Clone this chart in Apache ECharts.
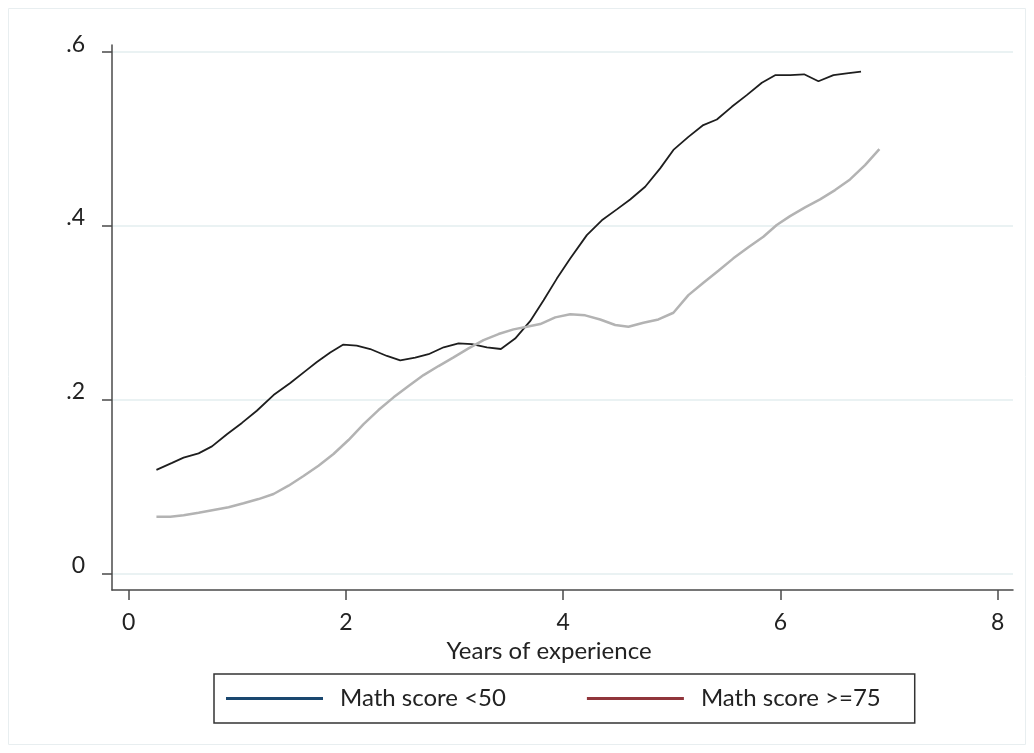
<!DOCTYPE html>
<html>
<head>
<meta charset="utf-8">
<script src="https://cdn.jsdelivr.net/npm/echarts@6/dist/echarts.min.js"></script>
<style>
html,body{margin:0;padding:0;background:#fff;}
#chart{width:1034px;height:753px;}
</style>
</head>
<body>
<div id="chart"></div>
<script>
// ---- data ----
const lowX = [0.256,0.40,0.506,0.644,0.767,0.905,1.043,1.18,1.334,1.488,1.641,1.733,1.856,1.973,2.10,2.224,2.378,2.50,2.638,2.761,2.90,3.037,3.16,3.298,3.427,3.558,3.696,3.82,3.942,4.065,4.218,4.356,4.494,4.617,4.755,4.893,5.015,5.153,5.29,5.415,5.552,5.69,5.829,5.951,6.089,6.218,6.35,6.488,6.61,6.742];
const lowY = [0.119,0.127,0.133,0.138,0.146,0.160,0.173,0.187,0.205,0.219,0.234,0.243,0.254,0.263,0.262,0.258,0.250,0.245,0.248,0.252,0.260,0.2645,0.2637,0.260,0.258,0.270,0.290,0.314,0.339,0.362,0.389,0.406,0.4186,0.430,0.4446,0.4658,0.487,0.502,0.5156,0.522,0.5366,0.550,0.5643,0.573,0.573,0.574,0.566,0.573,0.575,0.577];
const highX = [0.256,0.384,0.506,0.644,0.782,0.92,1.058,1.196,1.334,1.472,1.61,1.748,1.886,2.024,2.163,2.30,2.439,2.577,2.715,2.853,2.991,3.129,3.267,3.405,3.543,3.666,3.789,3.927,4.065,4.203,4.341,4.479,4.601,4.739,4.877,5.015,5.153,5.291,5.429,5.567,5.705,5.843,5.966,6.089,6.227,6.365,6.503,6.641,6.779,6.911];
const highY = [0.065,0.065,0.0667,0.0697,0.0728,0.0759,0.0805,0.0854,0.0912,0.1008,0.1119,0.1238,0.1372,0.1533,0.1717,0.1878,0.2024,0.2154,0.228,0.2384,0.2484,0.2588,0.2683,0.2752,0.2806,0.2836,0.2867,0.2944,0.298,0.2967,0.292,0.2856,0.2836,0.2882,0.292,0.2997,0.320,0.3342,0.348,0.3623,0.375,0.3871,0.4006,0.4109,0.421,0.4301,0.4408,0.4531,0.4696,0.488];
const seriesNames = ['Math score <50', 'Math score >=75'];
const xTicks = [0, 2, 4, 6, 8];
const xTickLabels = ['0', '2', '4', '6', '8'];
const yTicks = [0, 0.2, 0.4, 0.6];
const yTickLabels = ['0', '.2', '.4', '.6'];
const xTitle = 'Years of experience';

const pair = (xs, ys) => xs.map((x, i) => [x, ys[i]]);
const labelFor = (ticks, labels) => v => {
  for (let i = 0; i < ticks.length; i++) if (Math.abs(ticks[i] - v) < 1e-9) return labels[i];
  return '';
};

const FONT = 'Lato';
const axisCol = '#4a4a4a';
const gridCol = '#eaf2f3';

const chart = echarts.init(document.getElementById('chart'), null, {renderer: 'canvas'});
chart.setOption({
  backgroundColor: '#ffffff',
  animation: false,
  textStyle: {fontFamily: FONT},
  graphic: [{
    type: 'rect', silent: true, z: -1,
    shape: {x: 8.5, y: 8.5, width: 1017, height: 736},
    style: {fill: null, stroke: '#e8eef0', lineWidth: 1}
  }],
  grid: {left: 112, right: 21, top: 45, bottom: 163, containLabel: false},
  xAxis: {
    type: 'value',
    min: -0.153, max: 8.141,
    name: xTitle,
    nameLocation: 'middle',
    nameGap: 46,
    nameTextStyle: {fontFamily: FONT, fontSize: 24, color: '#222', padding: [0, 27, 0, 0]},
    axisLine: {show: true, onZero: false, lineStyle: {color: axisCol, width: 1.5}},
    axisTick: {show: true, inside: false, length: 10, customValues: xTicks, lineStyle: {color: axisCol, width: 1.5}},
    axisLabel: {show: true, margin: 21, customValues: xTicks, formatter: labelFor(xTicks, xTickLabels), fontFamily: FONT, fontSize: 23, color: '#222'},
    splitLine: {show: false}
  },
  yAxis: {
    type: 'value',
    min: -0.0192, max: 0.6077,
    axisLine: {show: true, onZero: false, lineStyle: {color: axisCol, width: 1.5}},
    axisTick: {show: true, inside: false, length: 10, customValues: yTicks, lineStyle: {color: axisCol, width: 1.5}},
    axisLabel: {show: true, margin: 27, customValues: yTicks, formatter: labelFor(yTicks, yTickLabels), fontFamily: FONT, fontSize: 23, color: '#222', verticalAlign: 'bottom', lineHeight: 15},
    splitLine: {show: true, lineStyle: {color: gridCol, width: 2}}
  },
  legend: {
    show: true,
    orient: 'horizontal',
    left: 214, top: 674,
    padding: [10, 34, 10, 12],
    borderColor: '#333', borderWidth: 1.5,
    itemGap: 81,
    itemWidth: 97, itemHeight: 3,
    icon: 'rect',
    textStyle: {fontFamily: FONT, fontSize: 24, color: '#222', lineHeight: 29, padding: [0, 0, 0, 12]},
    data: [
      {name: seriesNames[0], icon: 'rect', itemStyle: {color: '#1a476f'}},
      {name: seriesNames[1], icon: 'rect', itemStyle: {color: '#90353b'}}
    ]
  },
  series: [
    {
      name: seriesNames[0], type: 'line', data: pair(lowX, lowY),
      showSymbol: false, symbol: 'none', smooth: false,
      lineStyle: {color: '#1e1e1e', width: 1.8},
      itemStyle: {color: '#1e1e1e'}
    },
    {
      name: seriesNames[1], type: 'line', data: pair(highX, highY),
      showSymbol: false, symbol: 'none', smooth: false,
      lineStyle: {color: '#b3b3b3', width: 2.5},
      itemStyle: {color: '#b3b3b3'}
    }
  ]
});
</script>
</body>
</html>
